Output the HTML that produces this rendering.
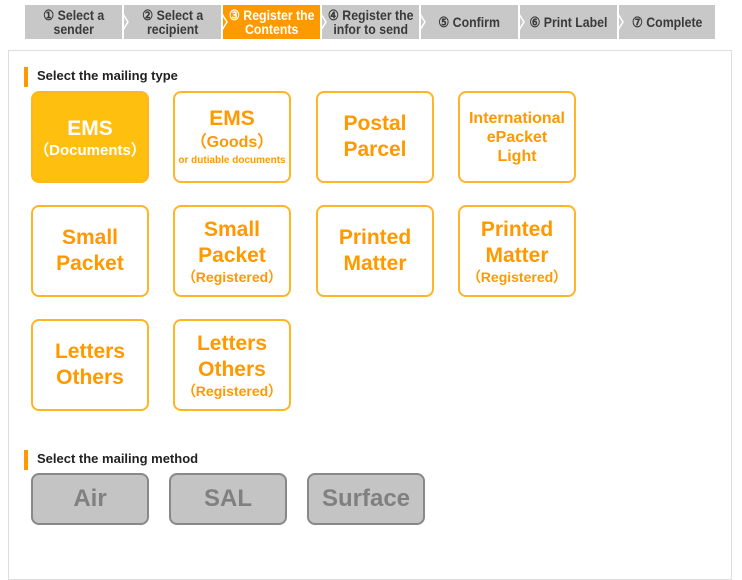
<!DOCTYPE html>
<html><head><style>
*{margin:0;padding:0;box-sizing:border-box}
body{width:742px;height:571px;background:#fff;position:relative;overflow:hidden;font-family:"Liberation Sans",sans-serif}
.tab{position:absolute;top:5px;height:34px;background:#c8c8c8;color:#3a3a3a;font-weight:bold;font-size:14px;line-height:14px;display:flex;align-items:center;justify-content:center;text-align:center;white-space:nowrap}
.tab span{display:inline-block;transform:scaleX(0.88);white-space:nowrap}
.tab.on{background:#f90;color:#fff}
.chev{position:absolute;top:14px;width:8px;height:16px}
.panel{position:absolute;left:8px;top:50px;width:724px;height:530px;border:1px solid #ddd}
.hd{position:absolute;left:24px;width:4px;height:20px;background:#f90}
.ht{position:absolute;left:37px;font-size:13px;font-weight:bold;color:#222}
.b{position:absolute;width:118px;height:92px;border:2px solid #ffb526;border-radius:8px;color:#f90;font-weight:bold;text-align:center;display:flex;flex-direction:column;justify-content:center;font-size:21px;line-height:26px;background:#fff}
.b small{font-size:14px;line-height:17px}
.b.sel{background:#ffbf0f;color:#fff}
.m{position:absolute;top:473px;width:118px;height:52px;border:2px solid #888;border-radius:8px;background:#c4c4c4;color:#808080;font-weight:bold;font-size:24px;display:flex;align-items:center;justify-content:center}
</style></head><body>
<div class="tab" style="left:25px;width:97px"><span>① Select a<br>sender</span></div>
<div class="tab" style="left:124px;width:97px"><span>② Select a<br>recipient</span></div>
<div class="tab on" style="left:223px;width:97px"><span>③ Register the<br>Contents</span></div>
<div class="tab" style="left:322px;width:97px"><span>④ Register the<br>infor to send</span></div>
<div class="tab" style="left:421px;width:97px"><span>⑤ Confirm</span></div>
<div class="tab" style="left:520px;width:97px"><span>⑥ Print Label</span></div>
<div class="tab" style="left:619px;width:96px"><span>⑦ Complete</span></div>
<svg class="chev" style="left:122px" viewBox="0 0 8 16"><polyline points="1,0 6,8 1,16" fill="none" stroke="#fff" stroke-width="1.5"/></svg>
<svg class="chev" style="left:221px" viewBox="0 0 8 16"><polyline points="1,0 6,8 1,16" fill="none" stroke="#fff" stroke-width="1.5"/></svg>
<svg class="chev" style="left:320px" viewBox="0 0 8 16"><polyline points="1,0 6,8 1,16" fill="none" stroke="#fff" stroke-width="1.5"/></svg>
<svg class="chev" style="left:419px" viewBox="0 0 8 16"><polyline points="1,0 6,8 1,16" fill="none" stroke="#fff" stroke-width="1.5"/></svg>
<svg class="chev" style="left:518px" viewBox="0 0 8 16"><polyline points="1,0 6,8 1,16" fill="none" stroke="#fff" stroke-width="1.5"/></svg>
<svg class="chev" style="left:617px" viewBox="0 0 8 16"><polyline points="1,0 6,8 1,16" fill="none" stroke="#fff" stroke-width="1.5"/></svg>
<div class="panel"></div>
<div class="hd" style="top:67px"></div><div class="ht" style="top:68px">Select the mailing type</div>
<div class="b sel" style="left:31px;top:91px">EMS<small style="font-size:15px">（Documents）</small></div>
<div class="b" style="left:173px;top:91px">EMS<small style="font-size:16px;line-height:22px">（Goods）</small><small style="font-size:10px;line-height:14px">or dutiable documents</small></div>
<div class="b" style="left:316px;top:91px">Postal<br>Parcel</div>
<div class="b" style="left:458px;top:91px;font-size:16px;line-height:19px">International<br>ePacket<br>Light</div>
<div class="b" style="left:31px;top:205px">Small<br>Packet</div>
<div class="b" style="left:173px;top:205px">Small<br>Packet<small>（Registered）</small></div>
<div class="b" style="left:316px;top:205px">Printed<br>Matter</div>
<div class="b" style="left:458px;top:205px">Printed<br>Matter<small>（Registered）</small></div>
<div class="b" style="left:31px;top:319px">Letters<br>Others</div>
<div class="b" style="left:173px;top:319px">Letters<br>Others<small>（Registered）</small></div>
<div class="hd" style="top:450px"></div><div class="ht" style="top:451px">Select the mailing method</div>
<div class="m" style="left:31px">Air</div>
<div class="m" style="left:169px">SAL</div>
<div class="m" style="left:307px">Surface</div>
</body></html>
